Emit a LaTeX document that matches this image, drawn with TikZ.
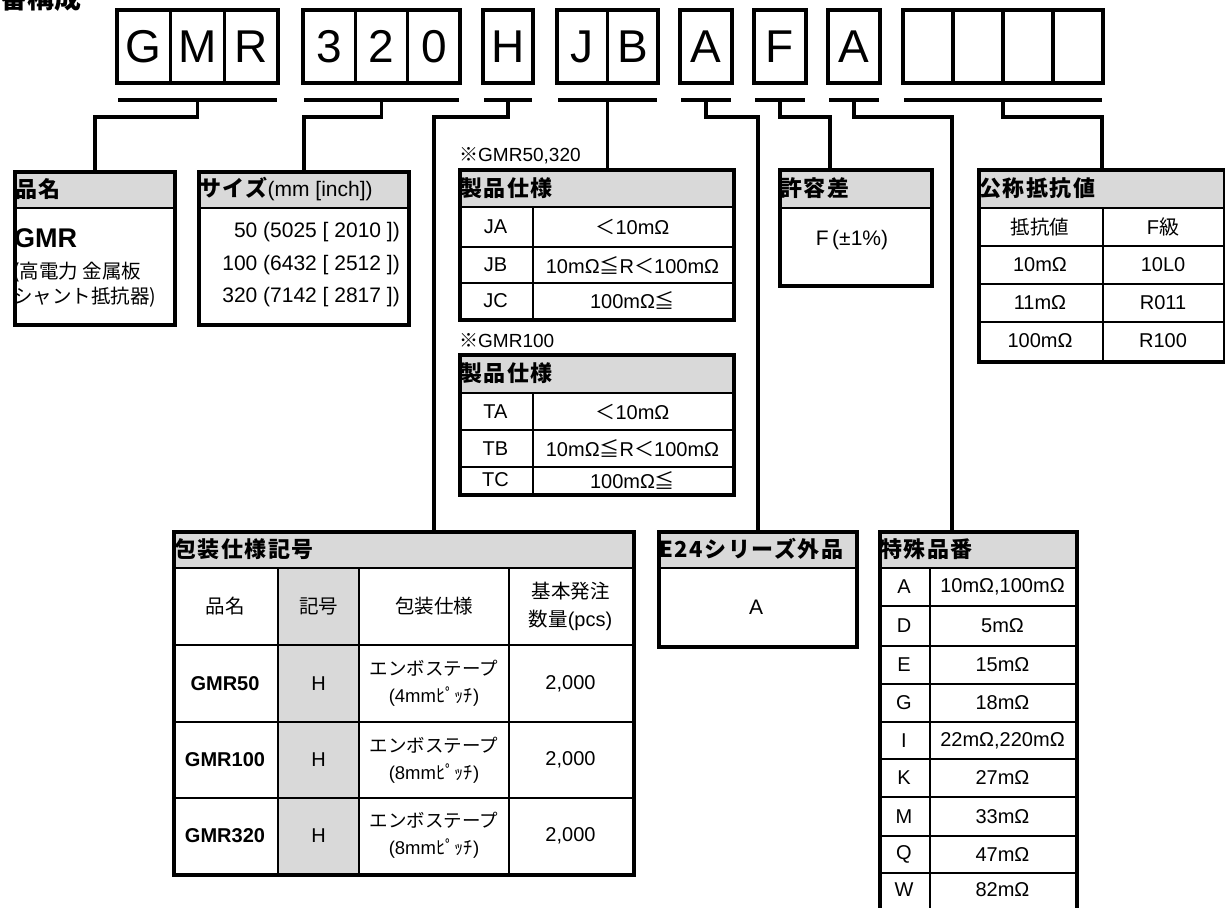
\documentclass[tikz,border=0pt]{standalone}
\usepackage{fontspec}
\setmainfont{Liberation Sans}
\newfontfamily\jp{Noto Sans CJK JP}
\definecolor{hdrgray}{RGB}{217,217,217}
\newcommand{\tfont}{\fontsize{20}{24}\selectfont}
\newcommand{\jtfont}{\fontsize{19.5}{28}\selectfont\jp}
\newcommand{\hfont}{\fontsize{22}{24}\selectfont\jp\bfseries\addfontfeature{LetterSpace=7}}
\newcommand{\jle}{{\jp ≦}}
\newcommand{\jlt}{{\jp ＜}}

\begin{document}
\begin{tikzpicture}[x=1pt, y=-1pt,
  cell/.style={draw, line width=3.5pt, minimum height=73pt, inner sep=0pt,
    font=\fontsize{46}{46}\selectfont},
  conn/.style={line width=3.5pt},
  tbl/.style={draw, line width=3.5pt, anchor=north west, inner sep=0pt},
  rule/.style={line width=1.8pt},
  head/.style={anchor=west, inner sep=0pt, font=\hfont},
  txt/.style={inner sep=0pt, font=\tfont}]
\useasboundingbox (0,0) rectangle (1225,907);
\clip (0,0) rectangle (1225,907);

\node[anchor=south west, inner sep=0pt, font=\fontsize{27}{27}\selectfont\jp\bfseries]
  (title) at (0,12) {番構成};

% code letters
\foreach \g/\x/\r/\n/\ls in {gmr/117/278/3/{G,M,R}, siz/303/460/3/{3,2,0},
    pkg/483/533/1/{H}, spc/557/658/2/{J,B}, etf/680/732/1/{A}, tol/754/806/1/{F},
    sp/828/880/1/{A}, val/903/1103/4/{{},{},{},{}}} {
  \pgfmathsetmacro\w{(\r-\x)/\n}
  \foreach \c [count=\i] in \ls
    \node[cell, minimum width=\w] (\g\i) at ({\x+\w*(\i-0.5)},46.5) {\c};
  \draw[conn] (\x+1,100) -- (\r-1,100);
  \coordinate (\g) at ({(\x+\r)/2},100);
}

% header fills
\foreach \xa/\ya/\xb/\yb in {13/170/173/208, 197/170/407/208, 458/168/732/207,
    458/353/732/393, 778/168/930/208, 977/168/1223/208, 172/530/632/568,
    278/568/359/873, 657/530/855/568, 878/530/1075/568}
  \fill[hdrgray] (\xa,\ya) rectangle (\xb,\yb);

% tables
\node[tbl, minimum width=160pt, minimum height=153pt] (hinmei) at (13,170) {};
\node[tbl, minimum width=210pt, minimum height=153pt] (size) at (197,170) {};
\node[tbl, minimum width=274pt, minimum height=150pt] (spec1) at (458,168) {};
\node[tbl, minimum width=274pt, minimum height=140pt] (spec2) at (458,353) {};
\node[tbl, minimum width=152pt, minimum height=116pt] (kyoyo) at (778,168) {};
\node[tbl, minimum width=246pt, minimum height=192pt] (koshou) at (977,168) {};
\node[tbl, minimum width=460pt, minimum height=343pt] (housou) at (172,530) {};
\node[tbl, minimum width=198pt, minimum height=115pt] (e24box) at (657,530) {};
\node[tbl, minimum width=197pt, minimum height=420pt] (tokushu) at (878,530) {};

% inner rules
\draw[rule] (13,208) -- (173,208);
\draw[rule] (197,208) -- (407,208);
\foreach \y in {207,247,283} \draw[rule] (458,\y) -- (732,\y);
\draw[rule] (533,207) -- (533,318);
\foreach \y in {393,430,467} \draw[rule] (458,\y) -- (732,\y);
\draw[rule] (533,393) -- (533,493);
\draw[rule] (778,208) -- (930,208);
\foreach \y in {208,246,284,322} \draw[rule] (977,\y) -- (1223,\y);
\draw[rule] (1103,208) -- (1103,360);
\foreach \y in {568,645,722,798} \draw[rule] (172,\y) -- (632,\y);
\foreach \x in {278,359,509} \draw[rule] (\x,568) -- (\x,873);
\draw[rule] (657,568) -- (855,568);
\foreach \y in {568,606,646,684,722,759,797,836,873} \draw[rule] (878,\y) -- (1075,\y);
\draw[rule] (930,568) -- (930,950);

% connectors
\draw[conn] (gmr) -- ++(0,17) -| (hinmei.north);
\draw[conn] (siz) -- ++(0,17) -| (size.north);
\draw[conn] (pkg) -- ++(0,17) -| ([xshift=262pt]housou.north west);
\draw[conn] (spc) -- (spc |- spec1.north);
\draw[conn] (etf) -- ++(0,17) -| (e24box.north);
\draw[conn] (tol) -- ++(0,17) -| ([xshift=52pt]kyoyo.north west);
\draw[conn] (sp) -- ++(0,17) -| ([xshift=74pt]tokushu.north west);
\draw[conn] (val) -- ++(0,17) -| (koshou.north);

% headers
\node[head] (h-hinmei) at (15,189) {品名};
\node[head] (h-size) at (199,189)
  {サイズ{\normalfont\fontsize{21}{24}\selectfont(mm [inch])}};
\node[anchor=west, inner sep=0pt, font=\fontsize{19}{20}\selectfont] (n-spec1)
  at (459,156) {{\jp ※}GMR50,320};
\node[head] (h-spec1) at (460,188) {製品仕様};
\node[anchor=west, inner sep=0pt, font=\fontsize{19}{20}\selectfont] (n-spec2)
  at (459,341) {{\jp ※}GMR100};
\node[head] (h-spec2) at (460,373) {製品仕様};
\node[head] (h-kyoyo) at (780,188) {許容差};
\node[head] (h-koshou) at (979,188) {公称抵抗値};
\node[head] (h-housou) at (174,549) {包装仕様記号};
\node[head] (h-e24) at (659,549) {E24シリーズ外品};
\node[head] (h-tokushu) at (880,549) {特殊品番};

% product name
\node[anchor=west, inner sep=0pt, font=\fontsize{27}{27}\selectfont\bfseries]
  (gmrname) at (14,238) {GMR};
\node[anchor=west, inner sep=0pt, font=\jtfont] (gmrdesc1) at (13,272) {(高電力 金属板};
\node[anchor=west, inner sep=0pt, font=\jtfont] (gmrdesc2) at (13,297) {シャント抵抗器)};

% sizes
\foreach \y/\s [count=\i] in {232/50 (5025 [ 2010 ]), 265/100 (6432 [ 2512 ]),
    297/320 (7142 [ 2817 ])}
  \node[txt, anchor=east, font=\fontsize{21}{24}\selectfont] (sz\i) at (400,\y) {\s};

% product specs
\foreach \y/\a/\b in {227/JA/{\jlt 10mΩ}, 265/JB/{10mΩ\jle R\jlt 100mΩ},
    300.5/JC/{100mΩ\jle}} {
  \node[txt] (s1-\a) at (495.5,\y) {\a};
  \node[txt] (s1v-\a) at (632.5,\y) {\b};
}
\foreach \y/\a/\b in {411.5/TA/{\jlt 10mΩ}, 448.5/TB/{10mΩ\jle R\jlt 100mΩ},
    480/TC/{100mΩ\jle}} {
  \node[txt] (s2-\a) at (495.5,\y) {\a};
  \node[txt] (s2v-\a) at (632.5,\y) {\b};
}

% tolerance
\node[txt, font=\fontsize{21}{24}\selectfont] (tolval) at (852,240) {F\,(±1\%)};

% nominal resistance
\node[txt, font=\jtfont] (k-col1) at (1040,227) {抵抗値};
\node[txt] (k-col2) at (1163,227) {F{\jp 級}};
\foreach \y/\a/\b in {265/10mΩ/10L0, 303/11mΩ/R011, 341/100mΩ/R100} {
  \node[txt] (kv-\b) at (1040,\y) {\a};
  \node[txt] (kc-\b) at (1163,\y) {\b};
}

% packaging
\node[txt, font=\jtfont] (p-col1) at (225,606.5) {品名};
\node[txt, font=\jtfont] (p-col2) at (318.5,606.5) {記号};
\node[txt, font=\jtfont] (p-col3) at (434,606.5) {包装仕様};
\node[txt, font=\jtfont, align=center] (p-col4) at (570.5,606.5)
  {基本発注\\数量{\normalfont\tfont(pcs)}};
\foreach \y/\nm/\pitch in {683.5/GMR50/4, 760/GMR100/8, 835.5/GMR320/8} {
  \node[txt, font=\tfont\bfseries] (pn-\nm) at (225,\y) {\nm};
  \node[txt] (pc-\nm) at (318.5,\y) {H};
  \node[txt, font=\fontsize{18.5}{27}\selectfont\jp, align=center] (pp-\nm) at (434,\y)
    {エンボステープ\\{\normalfont(\pitch mm}ﾋﾟｯﾁ{\normalfont)}};
  \node[txt] (pq-\nm) at (570.5,\y) {2,000};
}

% E24
\node[txt, font=\fontsize{21}{24}\selectfont] (e24val) at (756,607) {A};

% special codes
\foreach \y/\k/\v in {587/A/{10mΩ,100mΩ}, 626/D/5mΩ, 665/E/15mΩ, 703/G/18mΩ,
    740.5/I/{22mΩ,220mΩ}, 778/K/27mΩ, 816.5/M/33mΩ, 854.5/Q/47mΩ, 890/W/82mΩ} {
  \node[txt] (tk-\k) at (904,\y) {\k};
  \node[txt] (tv-\k) at (1002.5,\y) {\v};
}
\end{tikzpicture}
\end{document}
